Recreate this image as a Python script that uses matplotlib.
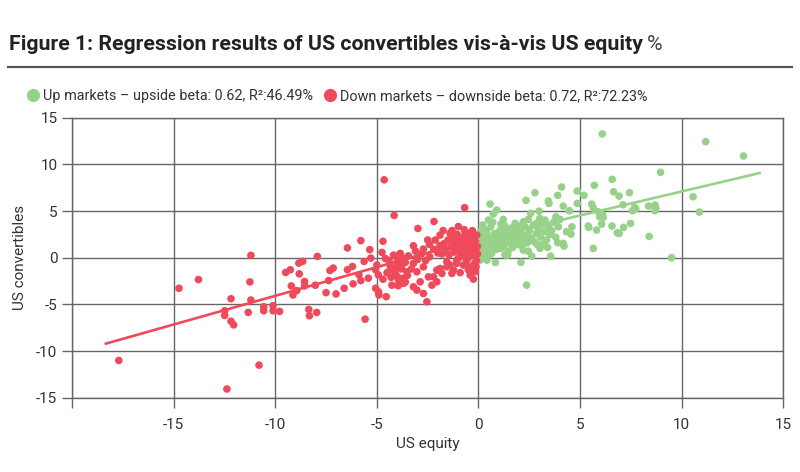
import matplotlib
matplotlib.use("Agg")
import matplotlib.pyplot as plt
from matplotlib.lines import Line2D

plt.rcParams['font.family'] = ['Roboto', 'DejaVu Sans']

# ---------------- data ----------------
title_text = "Figure 1: Regression results of US convertibles vis-à-vis US equity"
title_unit = "%"
up_label = "Up markets \u2013 upside beta: 0.62, R\u00b2:46.49%"
down_label = "Down markets \u2013 downside beta: 0.72, R\u00b2:72.23%"
x_label = "US equity"
y_label = "US convertibles"
x_ticks = [-20, -15, -10, -5, 0, 5, 10, 15]
x_tick_labels = ["", "-15", "-10", "-5", "0", "5", "10", "15"]
y_ticks = [-15, -10, -5, 0, 5, 10, 15]
y_tick_labels = ["-15", "-10", "-5", "0", "5", "10", "15"]

down_x = [-17.7, -12.38, -10.8, -11.2, -14.74, -13.78, -11.25, -12.18, -11.2, -12.49,
          -12.49, -12.18, -12.05, -11.33, -10.57, -10.57, -10.11, -10.11, -9.79, -9.49,
          -9.26, -8.84, -8.65, -8.82, -7.93, -9.21, -9.13, -8.94, -8.56, -8.56,
          -8.03, -8.35, -8.32, -7.96, -7.5, -7.31, -7.15, -7.37, -7.01,
          -4.64, -4.15, -0.68, -2.19, -2.98, -1.74, -0.99, -4.70, -5.79, -6.45, -5.35,
          -6.61, -6.45, -6.2, -5.88, -6.17, -5.79, -5.42, -5.63, -5.3, -5.06, -4.93,
          -5.06, -4.9, -4.54, -5.58,
          -3.2, -3.03, -2.71, -2.54, -2.29, -2.21, -2.05, -1.8, -1.56, -1.23, -1.07,
          -0.41, -0.41,
          -3.2, -2.71, -2.41, -2.13, -1.89, -1.4, -1.15, -0.9, -0.66, -0.42, -0.25, -0.08,
          -4.75, -4.59, -5.0, -4.18, -3.85, -3.69, -4.01, -4.34, -3.77, -3.52, -4.1,
          -3.94, -3.69, -4.26, -3.2, -3.03, -2.71, -2.87, -2.46, -2.05, -1.89, -1.4,
          -1.31, -1.56, -1.07, -0.74, -0.57, -0.9, -1.23, -4.92, -0.12,
          -1.7, -1.6, -1.5, -1.45, -1.35, -1.3, -1.2, -1.15, -1.05, -1.0, -0.95, -0.85,
          -0.8, -0.75, -0.7, -0.65, -0.6, -0.55, -0.5, -0.45, -0.4, -0.35, -0.3, -0.25,
          -0.2, -0.15, -0.1, -0.1, -0.05, -0.05, -0.2, -0.6, -1.0, -1.8, -1.9, -2.0,
          -2.2, -2.4, -2.6, -2.5, -2.8, -3.0, -3.1, -0.3, -0.7, -1.3, -0.5, -0.15,
          -0.25, -0.9,
          -4.4, -4.2, -4.0, -3.9, -3.8, -3.7, -3.6, -3.5, -3.45, -4.3, -4.05, -3.95,
          -3.6, -4.5, -4.7, -3.3]
down_y = [-11.0, -14.06, -11.5, 0.25, -3.27, -2.34, -2.59, -4.39, -4.53, -5.68,
          -6.19, -6.8, -7.19, -5.86, -5.25, -5.68, -5.14, -5.68, -5.75, -1.58,
          -1.29, -0.58, -0.39, -1.73, 0.14, -3.02, -3.99, -3.52, -2.55, -3.02,
          -2.95, -5.54, -6.22, -5.86, -3.74, -1.37, -1.11, -2.45, -3.88,
          8.34, 4.53, 5.36, 3.88, 3.13, 2.91, 3.34, 1.76, 1.83, 1.05, 0.86,
          -3.27, -1.29, -0.94, -1.83, -2.8, -2.45, -2.19, -0.4, -0.04, -1.29, -1.83,
          -3.27, -3.99, -4.17, -6.58,
          -3.12, -3.47, -3.83, -4.72, -2.94, -2.05, -1.33, -1.68, -0.98, -1.33, -0.61,
          -0.98, -1.86,
          1.28, 0.92, 1.43, 1.89, 2.42, 2.6, 2.24, 2.07, 2.78, 2.6, 2.24, 2.42,
          0.57, -0.08, -0.79, 0.28, 0.46, -0.08, -0.44, -0.98, -0.79, -1.51, -1.68,
          -2.4, -2.75, -2.94, -0.61, -1.51, -0.98, -2.58, -2.05, -2.58, -1.15, -0.79,
          -1.68, -0.44, -0.26, -0.79, 0.28, 0.46, 1.0, -3.65, -0.97,
          1.5, 0.8, 1.9, 0.3, 1.2, 2.0, 0.6, 1.5, 2.5, 0.9, 1.7, 1.2,
          0.2, 2.2, 1.6, 0.7, 1.1, 2.0, 0.0, 1.4, 0.6, 1.9, 1.0, 0.3,
          1.6, 0.8, 2.0, -0.3, 1.2, 0.4, -0.6, -0.4, -0.1, 0.4, 1.3, 0.5,
          0.9, 0.1, -0.3, 1.9, 0.4, -0.2, 0.7, 2.9, 3.0, 2.9, -1.3, -1.5,
          -2.3, -1.6,
          -0.3, -1.3, -2.0, -0.2, -1.2, -2.2, -0.5, -1.9, 0.2, -2.1, -1.0, -3.0,
          -2.6, -1.6, -2.3, -1.2]

up_x = [6.09, 11.18, 13.04, 8.96, 6.58, 6.65, 6.92, 7.43, 7.12, 10.56, 7.68, 7.58, 7.74,
        8.37, 8.69, 8.73, 8.68, 10.87, 6.11, 6.14, 6.01, 6.06, 6.57, 6.83, 6.92, 7.14,
        7.48, 8.4, 9.5,
        5.7, 4.86, 5.19, 4.09, 3.9, 2.78, 2.34, 3.44, 3.47, 0.57, 0.9, 0.73, 1.22, 2.98,
        4.17, 4.47, 4.86, 5.57, 5.65, 5.89, 5.43, 5.81, 5.65, 2.37, 2.09, 2.62, 3.55,
        0.83, 1.44, 1.68, 2.13, 2.21, 3.03, 3.19, 4.17, 4.21, 4.33, 4.55, 4.6, 3.93,
        4.01, 3.81, 3.52, 3.27, 3.02, 2.86, 2.57, 2.45, 2.21, 2.04, 1.8, 1.8, 1.71,
        1.39, 1.22, 1.06, 0.49, 0.32, 0.16, 0.41, 0.08, 0.65, 5.97, 5.4,
        0.1, 0.15, 0.2, 0.25, 0.3, 0.35, 0.4, 0.45, 0.5, 0.55, 0.6, 0.65, 0.7, 0.75,
        0.8, 0.85, 0.9, 0.95, 1.0, 1.05, 1.1, 1.15, 1.2, 1.25, 1.3, 1.35, 1.4, 1.45,
        1.5, 1.55, 1.6, 1.65, 1.7, 1.75, 1.85, 1.9, 1.95, 2.0, 2.1, 2.2, 2.3, 2.35,
        2.4, 2.5, 2.6, 2.7, 2.75, 2.85, 2.95, 3.05, 3.15, 3.25, 3.35, 3.45, 3.6, 3.7,
        3.8, 3.9, 0.05, 0.05, 0.1, 0.2, 0.3, 0.45, 0.55, 0.7, 0.95, 1.1, 1.3, 2.45,
        2.9, 3.4]
up_y = [13.25, 12.42, 10.89, 9.14, 8.39, 7.06, 6.6, 6.96, 5.67, 6.53, 5.39, 5.03, 5.24,
        5.53, 5.64, 5.28, 5.03, 4.89, 4.57, 4.32, 4.75, 3.6, 3.39, 2.67, 2.6, 3.25,
        3.67, 2.28, 0.0,
        7.75, 7.14, 6.68, 7.57, 6.68, 6.96, 6.14, 6.07, 5.82, 5.74, 5.1, 4.67, 4.1, 4.99,
        5.53, 5.03, 5.82, 5.74, 5.35, 4.92, 3.25, 2.96, 1.0, -2.94, -0.5, 0.17, 0.17,
        -0.5, 0.28, 1.1, 1.24, 0.81, 1.0, 1.46, 1.53, 1.24, 2.78, 2.53, 3.31, 3.31,
        4.1, 4.38, 2.5, 4.03, 4.21, 3.68, 4.75, 4.1, 3.85, 3.39, 3.68, 2.96, 2.42,
        2.96, 2.24, 1.89, 4.03, 2.96, 0.1, -0.26, -0.26, 0.46, 4.38, 3.39,
        0.8, 1.6, 2.3, 1.2, 0.4, 1.9, 2.7, 1.0, 1.6, 2.2, 3.3, 0.7, 1.3, 2.0,
        2.6, 1.6, 0.9, 2.3, 1.5, 2.9, 1.0, 1.9, 2.6, 1.3, 3.4, 1.8, 2.3, 0.7,
        1.6, 2.8, 2.0, 3.2, 1.5, 2.6, 1.9, 3.0, 2.3, 1.4, 2.7, 1.9, 3.3, 2.3,
        1.6, 2.9, 2.1, 3.5, 1.7, 2.6, 3.0, 2.2, 3.6, 2.8, 1.9, 3.3, 2.9, 3.8,
        2.2, 1.6, 1.3, 2.0, 2.8, 3.5, 1.5, 0.2, 1.2, 3.8, 1.2, 3.6, 0.3, 0.7,
        1.4, 1.1]

down_fit_x = [-18.4, -0.1]
down_fit_y = [-9.24, 2.0]
up_fit_x = [0.0, 13.9]
up_fit_y = [1.95, 9.1]

# ---------------- style ----------------
RED = "#EF4A5B"
GREEN = "#98D18A"
GRID = "#666666"
TXT = "#333333"

fig = plt.figure(figsize=(8, 4.72), dpi=100)
ax = fig.add_axes([0.0901, 0.1572, 0.9791 - 0.0901, 0.7508 - 0.1572])

ax.scatter(up_x, up_y, s=30, color=GREEN, edgecolors='none', zorder=3)
ax.scatter(down_x, down_y, s=30, color=RED, edgecolors='none', zorder=3)
ax.plot(up_fit_x, up_fit_y, color=GREEN, lw=1.9, zorder=4, solid_capstyle='butt')
ax.plot(down_fit_x, down_fit_y, color=RED, lw=1.9, zorder=4, solid_capstyle='butt')

ax.set_xlim(-20, 15)
ax.set_ylim(-15, 15)
ax.set_xticks(x_ticks)
ax.set_xticklabels(x_tick_labels)
ax.set_yticks(y_ticks)
ax.set_yticklabels(y_tick_labels)
ax.grid(True, color=GRID, lw=1.0, zorder=1)
ax.set_axisbelow(True)
for sp in ax.spines.values():
    sp.set_color(GRID)
    sp.set_linewidth(1.0)
ax.tick_params(axis='both', which='both', direction='out', length=7.5, width=1.0,
               color=GRID, labelcolor=TXT, labelsize=11)
ax.tick_params(axis='x', pad=7)
ax.tick_params(axis='y', pad=3)

ax.set_xlabel(x_label, fontsize=11, color=TXT, labelpad=4)
ax.set_ylabel(y_label, fontsize=11, color=TXT, labelpad=7)

# legend
handles = [Line2D([], [], marker='o', linestyle='none', markersize=9.5,
                  markerfacecolor=GREEN, markeredgecolor='none', label=up_label),
           Line2D([], [], marker='o', linestyle='none', markersize=9.5,
                  markerfacecolor=RED, markeredgecolor='none', label=down_label)]
leg = fig.legend(handles=handles, loc='center left', bbox_to_anchor=(0.033, 1 - 96 / 472),
                 ncol=2, frameon=False, fontsize=10.4, handletextpad=0.25,
                 columnspacing=0.75, handlelength=0.9, borderaxespad=0, borderpad=0)
for t in leg.get_texts():
    t.set_color(TXT)

# title
t1 = fig.text(0.011, 1 - 45 / 472, title_text, fontsize=15.3, fontweight='bold',
              color='#222222', va='center', ha='left')
fig.canvas.draw()
bb = t1.get_window_extent()
fig.text((bb.x1 + 4) / fig.bbox.width, 1 - 45 / 472, title_unit, fontsize=15.3,
         color='#444444', va='center', ha='left')

fig.add_artist(Line2D([8 / 800, 792 / 800], [1 - 67 / 472, 1 - 67 / 472],
                      transform=fig.transFigure, color='#555555', lw=1.6))

fig.savefig("out.png", dpi=100)
